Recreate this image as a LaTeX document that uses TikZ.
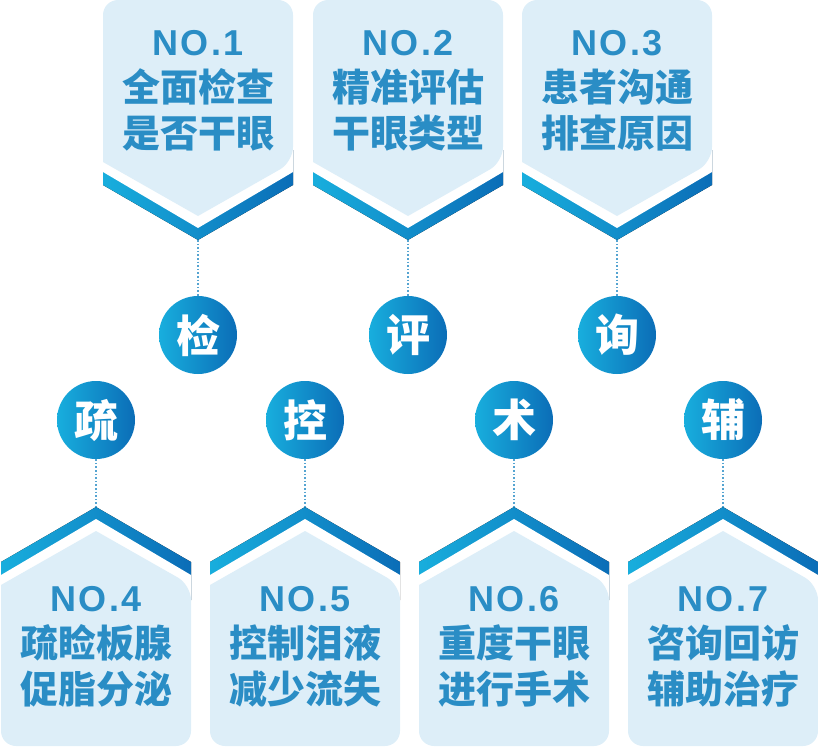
\documentclass[tikz,border=0pt]{standalone}
\usepackage{fontspec}
\newfontfamily\cjk{Noto Sans CJK SC Black}
\newfontfamily\latin[LetterSpace=6]{Liberation Sans}
\definecolor{cardbg}{HTML}{DDEEF8}
\definecolor{bluel}{HTML}{18AEDD}
\definecolor{bluer}{HTML}{0B6DB7}
\definecolor{txtblue}{HTML}{2A8DC5}
\usetikzlibrary{positioning}
\begin{document}
\begin{tikzpicture}[x=1pt,y=-1pt,
  band/.style={left color=bluel,right color=bluer,draw=none},
  card/.style={fill=cardbg,draw=none},
  ball/.style={circle,minimum size=78pt,inner sep=0pt,left color=bluel,right color=bluer,text=white,font=\cjk\fontsize{44}{44}\selectfont},
  cardtext/.style={align=center,text=txtblue,font=\cjk\fontsize{38}{46}\selectfont},
  link/.style={txtblue!80,dotted,line width=1.6pt}]
\useasboundingbox (0,0) rectangle (818,749);

% top row
\foreach \cx/\name/\sym/\num/\la/\lb in {198/a/检/1/全面检查/是否干眼, 408/b/评/2/精准评估/干眼类型, 617/c/询/3/患者沟通/排查原因}{
  \fill[band] (\cx-95,150) -- (\cx-95,185) -- (\cx,240) -- (\cx+95,185) -- (\cx+95,150) -- cycle;
  \fill[white] (\cx-95,150) -- (\cx-95,172) -- (\cx,228) -- (\cx+95,172) -- (\cx+95,150) -- cycle;
  \fill[card,rounded corners=15pt] (\cx-95,162) -- (\cx-95,0) -- (\cx+95,0) -- (\cx+95,162) [sharp corners] -- (\cx,216) -- cycle;
  \node[cardtext] (t\name) at (\cx,91) {{\latin\bfseries\fontsize{36}{36}\selectfont NO.\num}\\\la\\\lb};
  \coordinate (p\name) at (\cx,240);
  \node[ball] (\name) at (\cx,335) {\sym};
  \draw[link] (p\name) -- (\name);
}

% bottom row
\foreach \cx/\name/\sym/\num/\la/\lb in {96/d/疏/4/疏睑板腺/促脂分泌, 305/e/控/5/控制泪液/减少流失, 514/f/术/6/重度干眼/进行手术, 723/g/辅/7/咨询回访/辅助治疗}{
  \fill[band] (\cx-95,600) -- (\cx-95,562) -- (\cx,507) -- (\cx+95,562) -- (\cx+95,600) -- cycle;
  \fill[white] (\cx-95,600) -- (\cx-95,575) -- (\cx,519) -- (\cx+95,575) -- (\cx+95,600) -- cycle;
  \fill[card,rounded corners=15pt] (\cx-95,585) -- (\cx-95,746) -- (\cx+95,746) -- (\cx+95,585) [sharp corners] -- (\cx,531) -- cycle;
  \node[cardtext] (t\name) at (\cx,647) {{\latin\bfseries\fontsize{36}{36}\selectfont NO.\num}\\\la\\\lb};
  \coordinate (p\name) at (\cx,507);
  \node[ball] (\name) at (\cx,420) {\sym};
  \draw[link] (\name) -- (p\name);
}
\end{tikzpicture}
\end{document}
